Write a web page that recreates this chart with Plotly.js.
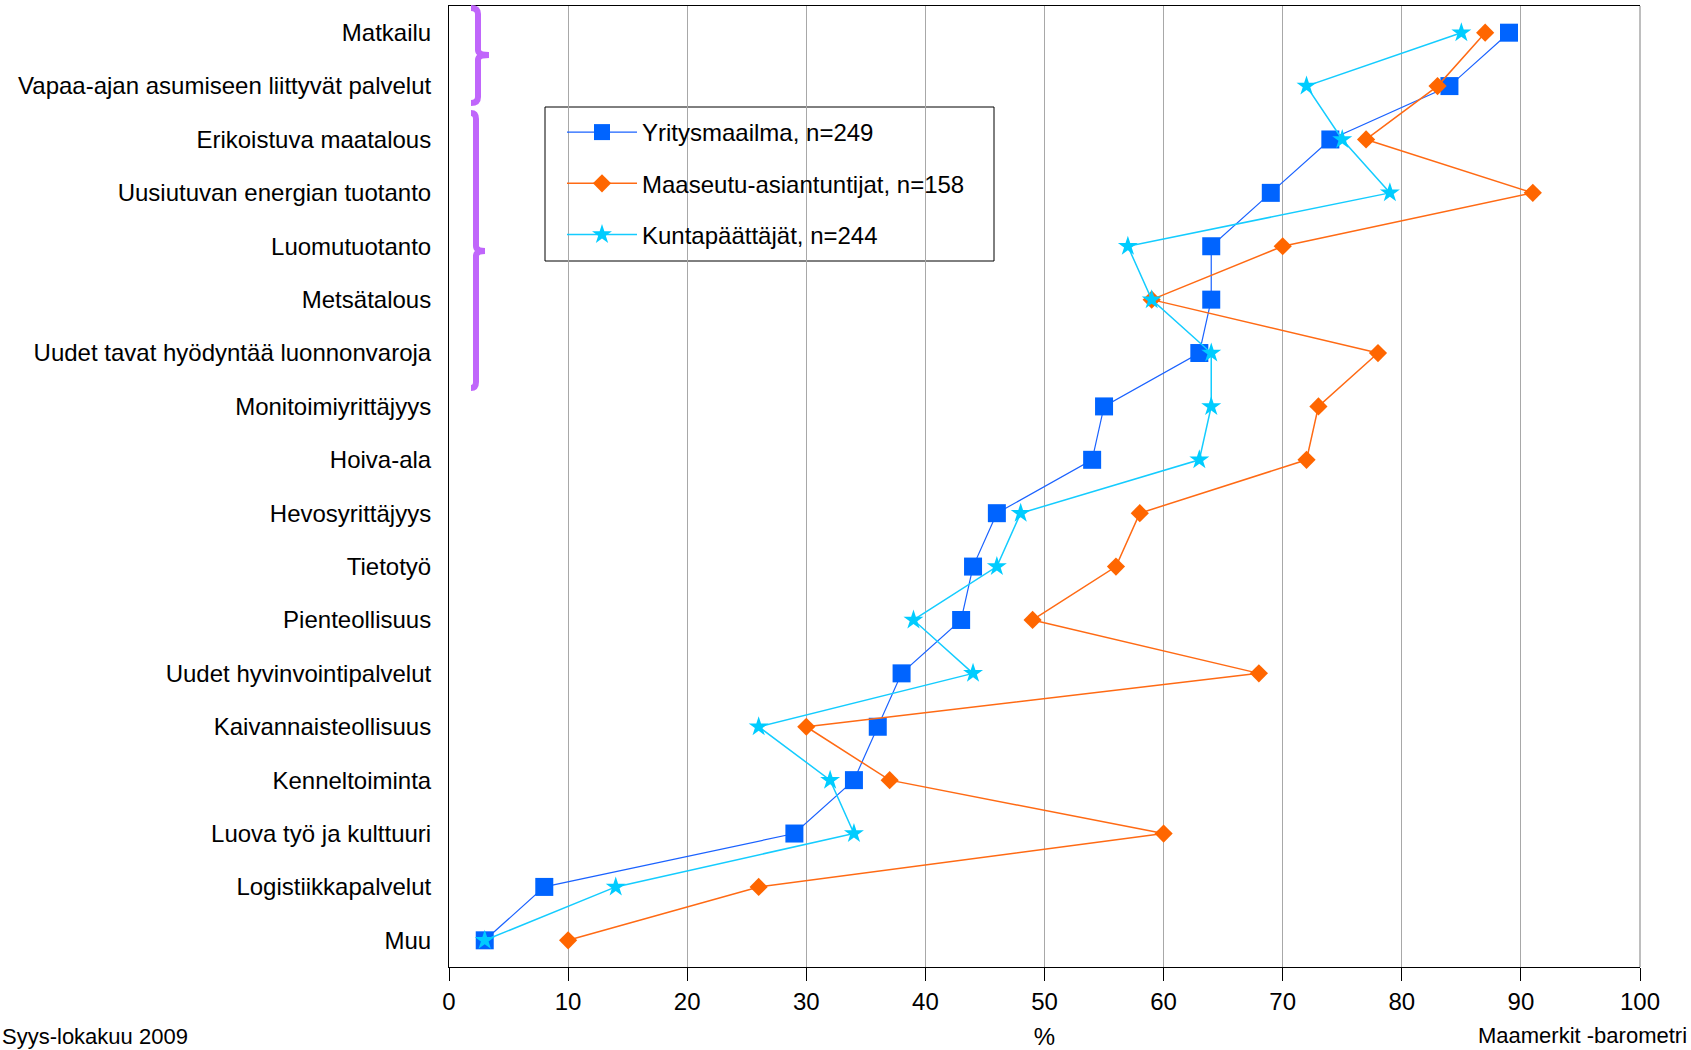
<!DOCTYPE html>
<html>
<head>
<meta charset="utf-8">
<script src="https://cdn.plot.ly/plotly-3.0.1.min.js"></script>
<style>
html,body{margin:0;padding:0;background:#fff;}
#chart{width:1691px;height:1050px;}
</style>
</head>
<body>
<div id="chart"></div>
<script>
// ---- data ----
const categories = [
  "Matkailu",
  "Vapaa-ajan asumiseen liittyvät palvelut",
  "Erikoistuva maatalous",
  "Uusiutuvan energian tuotanto",
  "Luomutuotanto",
  "Metsätalous",
  "Uudet tavat hyödyntää luonnonvaroja",
  "Monitoimiyrittäjyys",
  "Hoiva-ala",
  "Hevosyrittäjyys",
  "Tietotyö",
  "Pienteollisuus",
  "Uudet hyvinvointipalvelut",
  "Kaivannaisteollisuus",
  "Kenneltoiminta",
  "Luova työ ja kulttuuri",
  "Logistiikkapalvelut",
  "Muu"
];
const yritysmaailma = [89, 84, 74, 69, 64, 64, 63, 55, 54, 46, 44, 43, 38, 36, 34, 29, 8, 3];
const maaseutu      = [87, 83, 77, 91, 70, 59, 78, 73, 72, 58, 56, 49, 68, 30, 37, 60, 26, 10];
const kunta         = [85, 72, 75, 79, 57, 59, 64, 64, 63, 48, 46, 39, 44, 26, 32, 34, 14, 3];
const seriesNames = ["Yritysmaailma, n=249", "Maaseutu-asiantuntijat, n=158", "Kuntapäättäjät, n=244"];
const xTicks = [0, 10, 20, 30, 40, 50, 60, 70, 80, 90, 100];

// ---- layout helpers (pixel -> paper) ----
const W = 1691, H = 1050;
const M = {l: 449, r: W - 1640, t: 6, b: H - 967};
const PW = W - M.l - M.r, PH = H - M.t - M.b;
const px = X => (X - M.l) / PW;
const pyy = Y => (967 - Y) / PH;
function path(pts){
  return pts.map(p => {
    if (typeof p === 'string') return p;
    return px(p[0]).toFixed(5) + ',' + pyy(p[1]).toFixed(5);
  }).join(' ');
}
function brace(xl, xc, xn, y0, ym, y1){
  return path(['M', [xl, y0], 'Q', [xc, y0], [xc, y0 + 6], 'L', [xc, ym - 5],
    'Q', [xc, ym], [xn, ym], 'Q', [xc, ym], [xc, ym + 5], 'L', [xc, y1 - 6],
    'Q', [xc, y1], [xl, y1]]);
}
const purple = '#c066fb';
const font = 'Arial, "Liberation Sans", sans-serif';

const traces = [
  {x: yritysmaailma, y: categories, name: seriesNames[0], type: 'scatter', mode: 'lines+markers',
   line: {color: '#1a62ff', width: 1.2}, marker: {symbol: 'square', size: 18, color: '#0064ff'},
   legendgroup: 'a'},
  {x: maaseutu, y: categories, name: seriesNames[1], type: 'scatter', mode: 'lines+markers',
   line: {color: '#ff6a14', width: 1.5}, marker: {symbol: 'diamond', size: 14, color: '#ff6600'},
   legendgroup: 'b'},
  {x: kunta, y: categories, name: seriesNames[2], type: 'scatter', mode: 'lines+markers',
   line: {color: '#14ccff', width: 1.5}, marker: {symbol: 'star', size: 15, color: '#00ccff'},
   legendgroup: 'c'}
];

const layout = {
  width: W, height: H,
  margin: M,
  paper_bgcolor: '#fff', plot_bgcolor: '#fff',
  font: {family: font, size: 24, color: '#000'},
  showlegend: true,
  legend: {
    x: px(562), y: pyy(110), xanchor: 'left', yanchor: 'top',
    bgcolor: 'rgba(0,0,0,0)', borderwidth: 0,
    font: {family: font, size: 24, color: '#000'},
    traceorder: 'grouped', tracegroupgap: 17, itemwidth: 70
  },
  xaxis: {
    range: [0, 100], tickvals: xTicks, ticktext: xTicks.map(String),
    showgrid: true, gridcolor: '#a8a8a8', gridwidth: 1,
    zeroline: false, showline: true, linecolor: '#000', linewidth: 1, mirror: true,
    ticks: 'outside', ticklen: 13, tickcolor: '#000', tickwidth: 1,
    tickfont: {family: font, size: 24, color: '#000'},
    title: {text: '%', font: {family: font, size: 24, color: '#000'}, standoff: 17},
    fixedrange: true
  },
  yaxis: {
    type: 'category', categoryorder: 'array', categoryarray: categories,
    range: [categories.length - 0.5, -0.5],
    showgrid: false, zeroline: false, showline: true, linecolor: '#000', linewidth: 1,
    ticks: '', ticklabelstandoff: 12,
    tickfont: {family: font, size: 24, color: '#000'},
    fixedrange: true
  },
  shapes: [
    {type: 'rect', xref: 'paper', yref: 'paper', x0: px(545), x1: px(994), y0: pyy(261), y1: pyy(107),
     line: {color: '#000', width: 1}, fillcolor: '#fff', layer: 'between'},
    {type: 'line', xref: 'paper', yref: 'paper', x0: 1, x1: 1, y0: 0, y1: 1,
     line: {color: '#a8a8a8', width: 1.5}, layer: 'between'},
    {type: 'path', xref: 'paper', yref: 'paper', path: brace(471, 478, 489, 8, 55, 103),
     line: {color: purple, width: 6}, fillcolor: 'rgba(0,0,0,0)', layer: 'above'},
    {type: 'path', xref: 'paper', yref: 'paper', path: brace(471, 476, 485, 113, 251, 388),
     line: {color: purple, width: 6}, fillcolor: 'rgba(0,0,0,0)', layer: 'above'}
  ],
  annotations: [
    {text: 'Syys-lokakuu 2009', xref: 'paper', yref: 'paper', x: px(0), y: pyy(1036),
     xanchor: 'left', yanchor: 'middle', showarrow: false, font: {family: font, size: 22, color: '#000'}},
    {text: 'Maamerkit -barometri', xref: 'paper', yref: 'paper', x: px(1476), y: pyy(1035),
     xanchor: 'left', yanchor: 'middle', showarrow: false, font: {family: font, size: 22, color: '#000'}}
  ]
};

Plotly.newPlot('chart', traces, layout, {displayModeBar: false, staticPlot: true});
</script>
</body>
</html>
